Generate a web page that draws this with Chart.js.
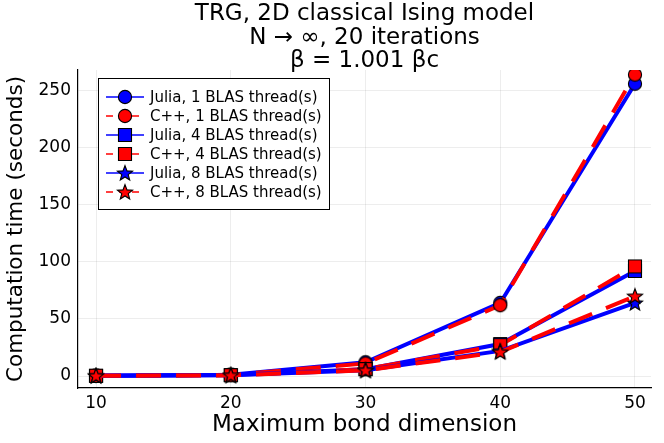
<!DOCTYPE html>
<html>
<head>
<meta charset="utf-8">
<script src="https://cdn.jsdelivr.net/npm/chart.js@4.4.0/dist/chart.umd.min.js"></script>
<style>
  html, body { margin: 0; padding: 0; background: #fff; }
  #wrap { width: 664px; height: 443px; }
</style>
</head>
<body>
<div id="wrap"><canvas id="main-chart" width="664" height="443"></canvas></div>
<script>
const bondDims = [10, 20, 30, 40, 50];
const julia1 = [0.3, 1.2, 12, 64, 256];
const cpp1   = [0.3, 1.0, 11, 62, 264];
const julia4 = [0.2, 0.8, 6, 28, 92];
const cpp4   = [0.2, 0.7, 6, 27, 96];
const julia8 = [0.2, 0.6, 5, 22, 64];
const cpp8   = [0.2, 0.6, 5, 21, 70];
const xTicks = [10, 20, 30, 40, 50];
const yTicks = [0, 50, 100, 150, 200, 250];
const titleLines = ['TRG, 2D classical Ising model', 'N \u2192 \u221e, 20 iterations', '\u03b2 = 1.001 \u03b2c'];

const FONT = '"DejaVu Sans", sans-serif';
const BLUE = '#0000ff';
const RED = '#ff0000';

function marker(shape, color) {
  const s = 18, c = document.createElement('canvas');
  c.width = s; c.height = s;
  const g = c.getContext('2d');
  g.fillStyle = color; g.strokeStyle = '#000'; g.lineWidth = 1.1;
  g.beginPath();
  if (shape === 'circle') {
    g.arc(9, 9, 6.6, 0, Math.PI * 2);
  } else if (shape === 'square') {
    g.rect(2.5, 2.5, 13, 13);
  } else {
    for (let i = 0; i < 10; i++) {
      const r = i % 2 === 0 ? 8 : 3.4;
      const a = -Math.PI / 2 + i * Math.PI / 5;
      const px = 9 + r * Math.cos(a), py = 9.6 + r * Math.sin(a);
      if (i === 0) g.moveTo(px, py); else g.lineTo(px, py);
    }
    g.closePath();
  }
  g.fill(); g.stroke();
  return c;
}

function pts(vals) { return bondDims.map((x, i) => ({ x: x, y: vals[i] })); }

const series = [
  { label: 'Julia, 1 BLAS thread(s)', vals: julia1, color: BLUE, shape: 'circle', dash: [] },
  { label: 'C++, 1 BLAS thread(s)',   vals: cpp1,   color: RED,  shape: 'circle', dash: [25, 15] },
  { label: 'Julia, 4 BLAS thread(s)', vals: julia4, color: BLUE, shape: 'square', dash: [] },
  { label: 'C++, 4 BLAS thread(s)',   vals: cpp4,   color: RED,  shape: 'square', dash: [25, 15] },
  { label: 'Julia, 8 BLAS thread(s)', vals: julia8, color: BLUE, shape: 'star',   dash: [] },
  { label: 'C++, 8 BLAS thread(s)',   vals: cpp8,   color: RED,  shape: 'star',   dash: [25, 15] },
];

const datasets = series.map((s, i) => ({
  label: s.label,
  data: pts(s.vals),
  borderColor: s.color,
  backgroundColor: s.color,
  borderWidth: 4,
  borderDash: s.dash,
  pointStyle: marker(s.shape, s.color),
  pointRadius: 8,
  order: 10 - i,
}));

const extras = {
  id: 'extras',
  afterDraw(chart) {
    const ctx = chart.ctx, area = chart.chartArea;
    ctx.save();
    // title
    ctx.fillStyle = '#000';
    ctx.font = '23px ' + FONT;
    ctx.textAlign = 'center';
    ctx.textBaseline = 'alphabetic';
    const cx = (area.left + area.right) / 2;
    titleLines.forEach((t, i) => ctx.fillText(t, cx, 20 + i * 23.5));
    // legend
    const lx = 98.5, ly = 78.5, lw = 231, lh = 131;
    ctx.fillStyle = '#fff';
    ctx.fillRect(lx, ly, lw, lh);
    ctx.strokeStyle = '#000';
    ctx.lineWidth = 1;
    ctx.strokeRect(lx, ly, lw, lh);
    ctx.font = '15px ' + FONT;
    ctx.textAlign = 'left';
    ctx.textBaseline = 'middle';
    series.forEach((s, i) => {
      const y = 97 + i * 19;
      ctx.strokeStyle = s.color;
      ctx.lineWidth = 1.5;
      ctx.setLineDash(s.dash.length ? [7, 6] : []);
      ctx.beginPath(); ctx.moveTo(106, y); ctx.lineTo(144, y); ctx.stroke();
      ctx.setLineDash([]);
      const m = datasets[i].pointStyle;
      ctx.drawImage(m, 125 - 9, y - 9);
      ctx.fillStyle = '#000';
      ctx.fillText(s.label, 150, y + 1);
    });
    ctx.restore();
  }
};

const ctx = document.getElementById('main-chart').getContext('2d');
new Chart(ctx, {
  type: 'line',
  data: { datasets: datasets },
  options: {
    responsive: false,
    animation: false,
    layout: { padding: { top: 70, right: 13, left: 0, bottom: 0 } },
    plugins: {
      legend: { display: false },
      title: { display: false },
      tooltip: { enabled: false }
    },
    scales: {
      x: {
        type: 'linear',
        min: 8.66, max: 51.19,
        afterBuildTicks(scale) { scale.ticks = xTicks.map(v => ({ value: v })); },
        afterFit(scale) { scale.height = 55; },
        grid: { color: 'rgba(0,0,0,0.07)', drawTicks: false },
        border: { color: '#000', width: 1.2 },
        ticks: { color: '#000', font: { family: FONT, size: 17 }, padding: 5 },
        title: { display: true, text: 'Maximum bond dimension', color: '#000', font: { family: FONT, size: 23 }, padding: { top: 3 } }
      },
      y: {
        min: -10.5, max: 268,
        afterBuildTicks(scale) { scale.ticks = yTicks.map(v => ({ value: v })); },
        afterFit(scale) { scale.width = 78; },
        grid: { color: 'rgba(0,0,0,0.07)', drawTicks: false },
        border: { color: '#000', width: 1.2 },
        ticks: { color: '#000', font: { family: FONT, size: 17 }, padding: 7 },
        title: { display: true, text: 'Computation time (seconds)', color: '#000', font: { family: FONT, size: 21.5 }, padding: { bottom: 0 } }
      }
    }
  },
  plugins: [extras]
});
</script>
</body>
</html>
